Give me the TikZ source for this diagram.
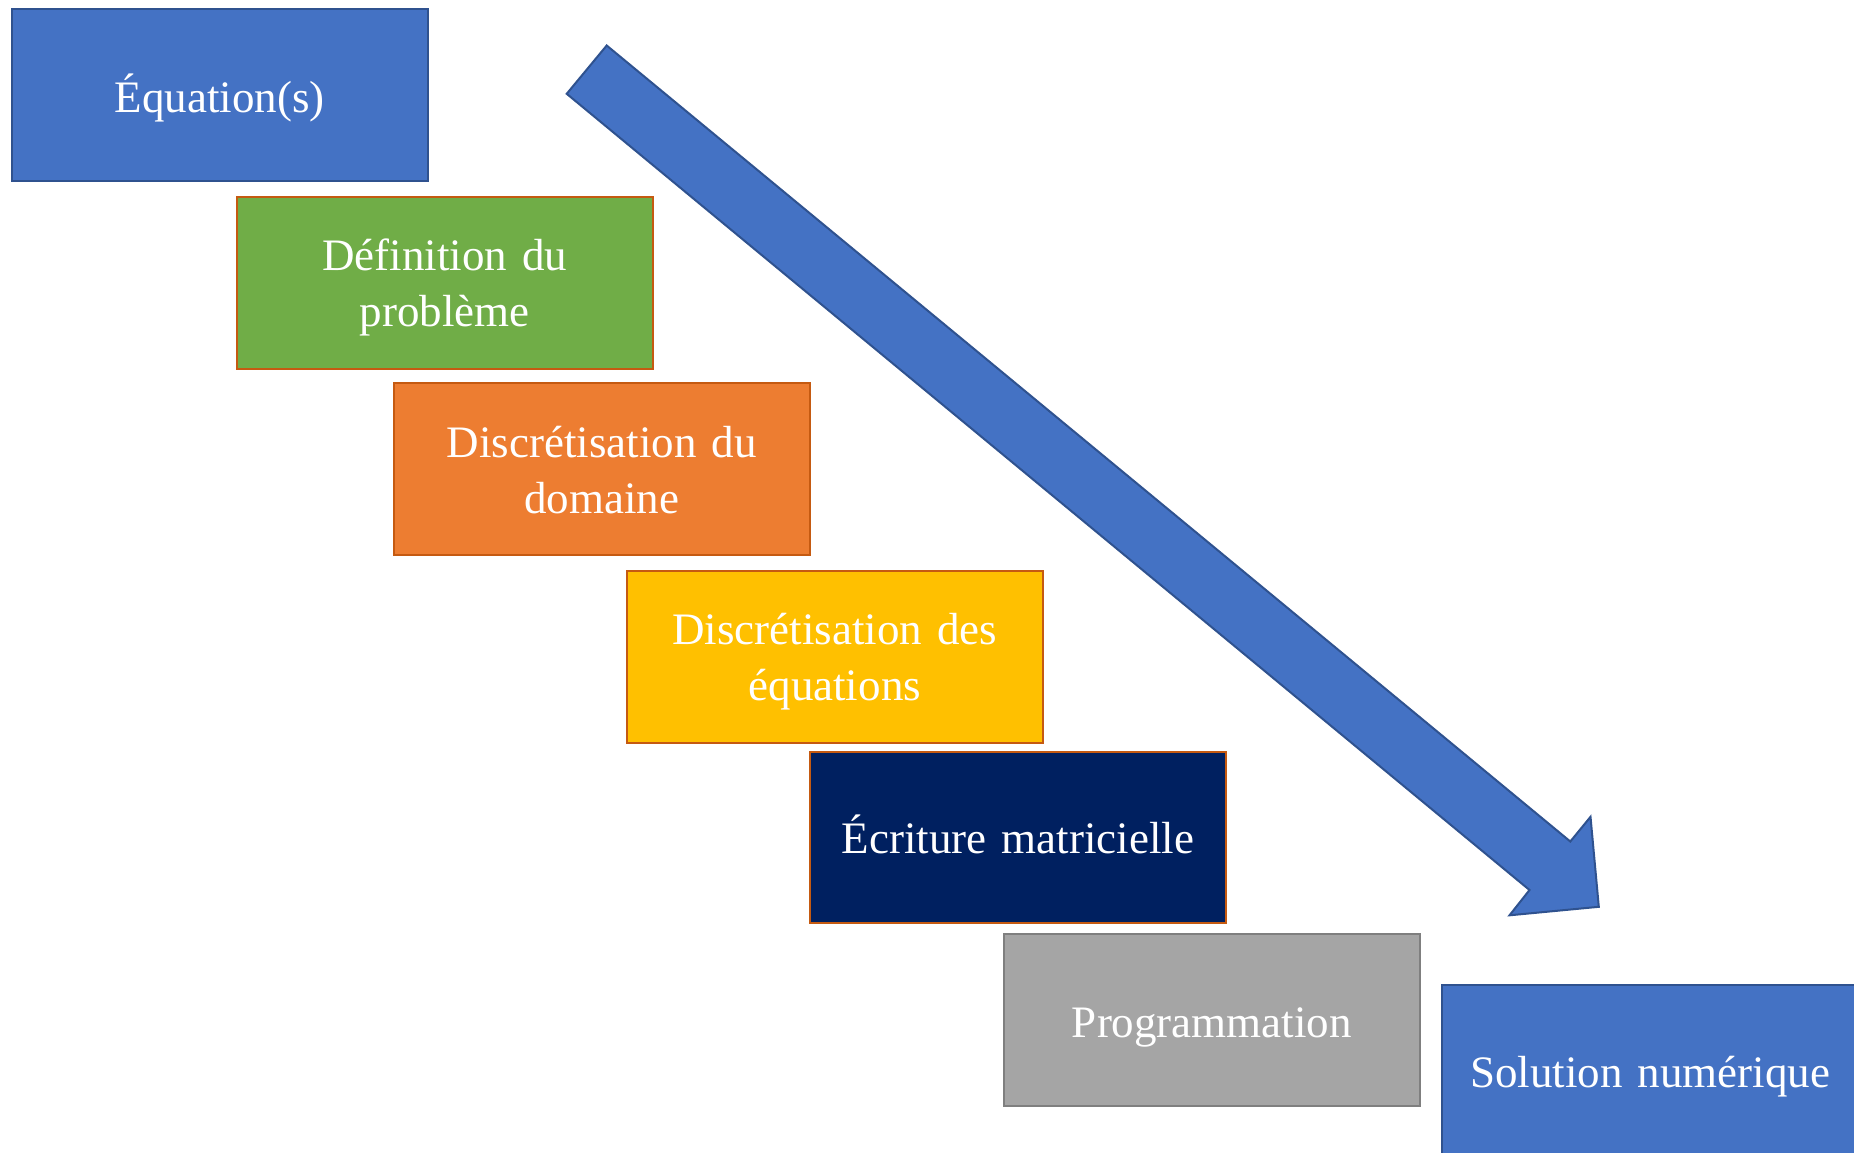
\documentclass[tikz,border=0pt]{standalone}
\usepackage{fontspec}
\setmainfont{Liberation Serif}
\definecolor{cblue}{HTML}{4472C4}
\definecolor{cblueb}{HTML}{2F528F}
\definecolor{cgreen}{HTML}{70AD47}
\definecolor{corange}{HTML}{ED7D31}
\definecolor{cyellow}{HTML}{FFC000}
\definecolor{cnavy}{HTML}{002060}
\definecolor{cgray}{HTML}{A5A5A5}
\definecolor{cgrayb}{HTML}{7F7F7F}
\definecolor{cbrown}{HTML}{C55A11}
\newcommand{\shifttxt}[2]{\raisebox{#1}[\height][\depth]{\begin{tabular}{@{}c@{}}#2\end{tabular}}}
\begin{document}
\begin{tikzpicture}[x=1pt,y=-1pt,
  stepbox/.style={draw, line width=2pt, anchor=north west, minimum width=416.5pt, minimum height=171.5pt,
    inner sep=0pt, text=white, align=center, font=\fontsize{45}{56}\selectfont, text width=410pt}]
\useasboundingbox (0,0) rectangle (1854,1152);
\clip (0,0) rectangle (1854,1152);
\node[stepbox, fill=cblue, draw=cblueb] (eq) at (10.6,8.3) {\shifttxt{-6.5pt}{Équation(s)}};
\node[stepbox, fill=cgreen, draw=cbrown] (def) at (235.5,196) {\shifttxt{-4.5pt}{Définition du\\problème}};
\node[stepbox, fill=corange, draw=cbrown] (dom) at (392.6,382) {\shifttxt{-5.5pt}{Discrétisation du\\domaine}};
\node[stepbox, fill=cyellow, draw=cbrown] (deq) at (625.5,570) {\shifttxt{-5pt}{Discrétisation des\\équations}};
\node[stepbox, fill=cnavy, draw=cbrown] (mat) at (808.8,750.8) {\shifttxt{-4.5pt}{Écriture matricielle}};
\node[stepbox, fill=cgray, draw=cgrayb] (prog) at (1002.7,933) {\shifttxt{-7pt}{Programmation}};
\node[stepbox, fill=cblue, draw=cblueb] (sol) at (1441,984) {\shifttxt{-6pt}{Solution numérique}};
\draw[fill=cblue, draw=cblueb, line width=2pt, line join=miter]
  (566.7,93.8) -- (606.7,45.5) -- (1570.3,841.5) -- (1590.5,816.8) -- (1598.8,906.8)
  -- (1509.5,915.3) -- (1529.5,890) -- cycle;
\end{tikzpicture}
\end{document}
